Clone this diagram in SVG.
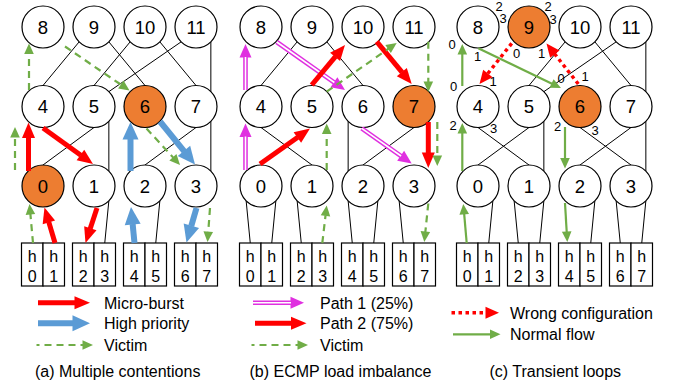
<svg xmlns="http://www.w3.org/2000/svg" width="675" height="385" viewBox="0 0 675 385">
<defs>
<style>
.n circle{fill:#fff;stroke:#000;stroke-width:1.2}
.n.o circle{fill:#ED7D31}
.n text{font-family:"Liberation Sans",Arial,sans-serif;font-size:18.5px;text-anchor:middle;fill:#000}
.h rect{fill:#fff;stroke:#000;stroke-width:1.2}
.h text{font-family:"Liberation Sans",Arial,sans-serif;font-size:16px;text-anchor:middle;fill:#000}
.lk line{stroke:#000;stroke-width:1;fill:none}
.ar line{fill:none}
.r{stroke:#FF0000;stroke-width:5;marker-end:url(#mr)}
.b{stroke:#5B9BD5;stroke-width:6;marker-end:url(#mb)}
.gd{stroke:#70AD47;stroke-width:2.2;stroke-dasharray:7 5;marker-end:url(#mg)}
.gs{stroke:#70AD47;stroke-width:2.2;marker-end:url(#mg)}
.rd{stroke:#FF0000;stroke-width:3.5;stroke-dasharray:3.5 3.5;marker-end:url(#md)}
.p{stroke:#E030E0;stroke-width:4.6;marker-end:url(#mp)}
.pw{stroke:#fff;stroke-width:1.6}
.pt{font-family:"Liberation Sans",Arial,sans-serif;font-size:13px;text-anchor:middle;fill:#000}
.lg{font-family:"Liberation Sans",Arial,sans-serif;font-size:16px;fill:#000}
</style>
<marker id="mr" markerUnits="userSpaceOnUse" markerWidth="20" markerHeight="20" refX="0" refY="0" orient="auto" overflow="visible"><path d="M-0.5,-6.5L15,0L-0.5,6.5z" fill="#FF0000"/></marker>
<marker id="mb" markerUnits="userSpaceOnUse" markerWidth="20" markerHeight="20" refX="0" refY="0" orient="auto" overflow="visible"><path d="M-0.5,-8L17,0L-0.5,8z" fill="#5B9BD5"/></marker>
<marker id="mg" markerUnits="userSpaceOnUse" markerWidth="20" markerHeight="20" refX="0" refY="0" orient="auto" overflow="visible"><path d="M-0.5,-4.8L10,0L-0.5,4.8z" fill="#70AD47"/></marker>
<marker id="md" markerUnits="userSpaceOnUse" markerWidth="20" markerHeight="20" refX="0" refY="0" orient="auto" overflow="visible"><path d="M-0.5,-6L13,0L-0.5,6z" fill="#FF0000"/></marker>
<marker id="mp" markerUnits="userSpaceOnUse" markerWidth="20" markerHeight="20" refX="0" refY="0" orient="auto" overflow="visible"><path d="M-0.5,-6L13,0L-0.5,6z" fill="#E030E0"/></marker>
</defs>

<!-- Panel (a) -->
<g id="panel-a">
<g id="a-links" class="lk">
<line x1="43" y1="85.5" x2="79.15" y2="41.85"/>
<line x1="94" y1="85.5" x2="130.15" y2="41.85"/>
<line x1="108.85" y1="91.65" x2="181.15" y2="41.85"/>
<line x1="145" y1="85.5" x2="108.85" y2="41.85"/>
<line x1="196" y1="85.5" x2="159.85" y2="41.85"/>
<line x1="210.85" y1="41.85" x2="210.85" y2="91.65"/>
<line x1="43" y1="165" x2="94" y2="127.5"/>
<line x1="108.85" y1="171.15" x2="108.85" y2="121.35"/>
<line x1="145" y1="165" x2="196" y2="127.5"/>
<line x1="210.85" y1="171.15" x2="210.85" y2="121.35"/>
<line x1="108.85" y1="200.85" x2="104.75" y2="243"/>
<line x1="159.85" y1="200.85" x2="155.75" y2="243"/>
</g>
<g id="a-n8" class="n"><circle cx="43" cy="27" r="21"/><text x="43" y="33.6">8</text></g>
<g id="a-n9" class="n"><circle cx="94" cy="27" r="21"/><text x="94" y="33.6">9</text></g>
<g id="a-n10" class="n"><circle cx="145" cy="27" r="21"/><text x="145" y="33.6">10</text></g>
<g id="a-n11" class="n"><circle cx="196" cy="27" r="21"/><text x="196" y="33.6">11</text></g>
<g id="a-n4" class="n"><circle cx="43" cy="106.5" r="21"/><text x="43" y="113.1">4</text></g>
<g id="a-n5" class="n"><circle cx="94" cy="106.5" r="21"/><text x="94" y="113.1">5</text></g>
<g id="a-n6" class="n o"><circle cx="145" cy="106.5" r="21"/><text x="145" y="113.1">6</text></g>
<g id="a-n7" class="n"><circle cx="196" cy="106.5" r="21"/><text x="196" y="113.1">7</text></g>
<g id="a-n0" class="n o"><circle cx="43" cy="186" r="21"/><text x="43" y="192.6">0</text></g>
<g id="a-n1" class="n"><circle cx="94" cy="186" r="21"/><text x="94" y="192.6">1</text></g>
<g id="a-n2" class="n"><circle cx="145" cy="186" r="21"/><text x="145" y="192.6">2</text></g>
<g id="a-n3" class="n"><circle cx="196" cy="186" r="21"/><text x="196" y="192.6">3</text></g>
<g id="a-h0" class="h"><rect x="21.5" y="243" width="21.5" height="43"/><text x="32.25" y="261.5">h</text><text x="32.25" y="282">0</text></g>
<g id="a-h1" class="h"><rect x="43" y="243" width="21.5" height="43"/><text x="53.75" y="261.5">h</text><text x="53.75" y="282">1</text></g>
<g id="a-h2" class="h"><rect x="72.5" y="243" width="21.5" height="43"/><text x="83.25" y="261.5">h</text><text x="83.25" y="282">2</text></g>
<g id="a-h3" class="h"><rect x="94" y="243" width="21.5" height="43"/><text x="104.75" y="261.5">h</text><text x="104.75" y="282">3</text></g>
<g id="a-h4" class="h"><rect x="123.5" y="243" width="21.5" height="43"/><text x="134.25" y="261.5">h</text><text x="134.25" y="282">4</text></g>
<g id="a-h5" class="h"><rect x="145" y="243" width="21.5" height="43"/><text x="155.75" y="261.5">h</text><text x="155.75" y="282">5</text></g>
<g id="a-h6" class="h"><rect x="174.5" y="243" width="21.5" height="43"/><text x="185.25" y="261.5">h</text><text x="185.25" y="282">6</text></g>
<g id="a-h7" class="h"><rect x="196" y="243" width="21.5" height="43"/><text x="206.75" y="261.5">h</text><text x="206.75" y="282">7</text></g>
<g id="a-arrows" class="ar">
<line class="r" x1="55" y1="243" x2="48.75" y2="221.88"/>
<line class="r" x1="28.5" y1="171" x2="28.5" y2="137.5"/>
<line class="r" x1="43" y1="128" x2="80.83" y2="155.24"/>
<line class="r" x1="97" y1="208" x2="90.18" y2="228.75"/>
<line class="b" x1="134.5" y1="243" x2="132.65" y2="223.92"/>
<line class="b" x1="130.5" y1="171" x2="130.5" y2="139"/>
<line class="b" x1="160" y1="121.5" x2="184.27" y2="151.31"/>
<line class="b" x1="196.5" y1="208" x2="191.23" y2="226.17"/>
<line class="gd" x1="33" y1="243" x2="30.39" y2="213.96"/>
<line class="gd" x1="15" y1="170" x2="15" y2="137"/>
<line class="gd" x1="29" y1="90" x2="29" y2="53.5"/>
<line class="gd" x1="65" y1="46.5" x2="121.24" y2="84.86"/>
<line class="gd" x1="146.5" y1="128.5" x2="173.24" y2="157.63"/>
<line class="gd" x1="210" y1="208" x2="208.23" y2="232.03"/>
</g>
</g>

<!-- Panel (b) -->
<g id="panel-b" transform="translate(218,0)">
<g id="b-links" class="lk">
<line x1="43" y1="85.5" x2="79.15" y2="41.85"/>
<line x1="145" y1="85.5" x2="108.85" y2="41.85"/>
<line x1="94" y1="165" x2="43" y2="127.5"/>
<line x1="130.15" y1="171.15" x2="130.15" y2="121.35"/>
<line x1="145" y1="165" x2="196" y2="127.5"/>
<line x1="28.15" y1="200.85" x2="32.25" y2="243"/>
<line x1="57.85" y1="200.85" x2="53.75" y2="243"/>
<line x1="79.15" y1="200.85" x2="83.25" y2="243"/>
<line x1="130.15" y1="200.85" x2="134.25" y2="243"/>
<line x1="159.85" y1="200.85" x2="155.75" y2="243"/>
<line x1="181.15" y1="200.85" x2="185.25" y2="243"/>
</g>
<g id="b-n8" class="n"><circle cx="43" cy="27" r="21"/><text x="43" y="33.6">8</text></g>
<g id="b-n9" class="n"><circle cx="94" cy="27" r="21"/><text x="94" y="33.6">9</text></g>
<g id="b-n10" class="n"><circle cx="145" cy="27" r="21"/><text x="145" y="33.6">10</text></g>
<g id="b-n11" class="n"><circle cx="196" cy="27" r="21"/><text x="196" y="33.6">11</text></g>
<g id="b-n4" class="n"><circle cx="43" cy="106.5" r="21"/><text x="43" y="113.1">4</text></g>
<g id="b-n5" class="n"><circle cx="94" cy="106.5" r="21"/><text x="94" y="113.1">5</text></g>
<g id="b-n6" class="n"><circle cx="145" cy="106.5" r="21"/><text x="145" y="113.1">6</text></g>
<g id="b-n7" class="n o"><circle cx="196" cy="106.5" r="21"/><text x="196" y="113.1">7</text></g>
<g id="b-n0" class="n"><circle cx="43" cy="186" r="21"/><text x="43" y="192.6">0</text></g>
<g id="b-n1" class="n"><circle cx="94" cy="186" r="21"/><text x="94" y="192.6">1</text></g>
<g id="b-n2" class="n"><circle cx="145" cy="186" r="21"/><text x="145" y="192.6">2</text></g>
<g id="b-n3" class="n"><circle cx="196" cy="186" r="21"/><text x="196" y="192.6">3</text></g>
<g id="b-h0" class="h"><rect x="21.5" y="243" width="21.5" height="43"/><text x="32.25" y="261.5">h</text><text x="32.25" y="282">0</text></g>
<g id="b-h1" class="h"><rect x="43" y="243" width="21.5" height="43"/><text x="53.75" y="261.5">h</text><text x="53.75" y="282">1</text></g>
<g id="b-h2" class="h"><rect x="72.5" y="243" width="21.5" height="43"/><text x="83.25" y="261.5">h</text><text x="83.25" y="282">2</text></g>
<g id="b-h3" class="h"><rect x="94" y="243" width="21.5" height="43"/><text x="104.75" y="261.5">h</text><text x="104.75" y="282">3</text></g>
<g id="b-h4" class="h"><rect x="123.5" y="243" width="21.5" height="43"/><text x="134.25" y="261.5">h</text><text x="134.25" y="282">4</text></g>
<g id="b-h5" class="h"><rect x="145" y="243" width="21.5" height="43"/><text x="155.75" y="261.5">h</text><text x="155.75" y="282">5</text></g>
<g id="b-h6" class="h"><rect x="174.5" y="243" width="21.5" height="43"/><text x="185.25" y="261.5">h</text><text x="185.25" y="282">6</text></g>
<g id="b-h7" class="h"><rect x="196" y="243" width="21.5" height="43"/><text x="206.75" y="261.5">h</text><text x="206.75" y="282">7</text></g>
<g id="b-arrows" class="ar">
<line class="p" x1="27.5" y1="170" x2="27.5" y2="136.5"/><line class="pw" x1="27.5" y1="170" x2="27.5" y2="136.5"/>
<line class="p" x1="27.5" y1="90" x2="27.5" y2="57"/><line class="pw" x1="27.5" y1="90" x2="27.5" y2="57"/>
<line class="p" x1="58.7" y1="42" x2="116.36" y2="82.52"/><line class="pw" x1="58.7" y1="42" x2="116.36" y2="82.52"/>
<line class="p" x1="143.7" y1="128.3" x2="183.07" y2="156.02"/><line class="pw" x1="143.7" y1="128.3" x2="183.07" y2="156.02"/>
<line class="r" x1="42" y1="164" x2="79.77" y2="137.18"/>
<line class="r" x1="93.7" y1="85" x2="117.4" y2="56.53"/>
<line class="r" x1="158.7" y1="41.7" x2="184.14" y2="72.44"/>
<line class="r" x1="210.3" y1="122" x2="210.3" y2="153"/>
<line class="gd" x1="104.3" y1="243" x2="107.54" y2="215.43"/>
<line class="gd" x1="108.7" y1="170" x2="108.7" y2="133.5"/>
<line class="gd" x1="108.7" y1="91.7" x2="170.49" y2="48.71"/>
<line class="gd" x1="210.3" y1="41.7" x2="210.3" y2="82"/>
<line class="gd" x1="219.3" y1="122" x2="219.3" y2="156"/>
<line class="gd" x1="210.3" y1="203.5" x2="207.33" y2="232.05"/>
</g>
</g>

<!-- Panel (c) -->
<g id="panel-c" transform="translate(435,0)">
<g id="c-links" class="lk">
<line x1="94" y1="85.5" x2="130.15" y2="41.85"/>
<line x1="108.85" y1="91.65" x2="181.15" y2="41.85"/>
<line x1="196" y1="85.5" x2="159.85" y2="41.85"/>
<line x1="210.85" y1="41.85" x2="210.85" y2="91.65"/>
<line x1="94" y1="165" x2="43" y2="127.5"/>
<line x1="43" y1="165" x2="94" y2="127.5"/>
<line x1="108.85" y1="171.15" x2="108.85" y2="121.35"/>
<line x1="196" y1="165" x2="145" y2="127.5"/>
<line x1="145" y1="165" x2="196" y2="127.5"/>
<line x1="210.85" y1="171.15" x2="210.85" y2="121.35"/>
<line x1="57.85" y1="200.85" x2="53.75" y2="243"/>
<line x1="79.15" y1="200.85" x2="83.25" y2="243"/>
<line x1="108.85" y1="200.85" x2="104.75" y2="243"/>
<line x1="159.85" y1="200.85" x2="155.75" y2="243"/>
<line x1="181.15" y1="200.85" x2="185.25" y2="243"/>
<line x1="210.85" y1="200.85" x2="206.75" y2="243"/>
</g>
<g id="c-n8" class="n"><circle cx="43" cy="27" r="21"/><text x="43" y="33.6">8</text></g>
<g id="c-n9" class="n o"><circle cx="94" cy="27" r="21"/><text x="94" y="33.6">9</text></g>
<g id="c-n10" class="n"><circle cx="145" cy="27" r="21"/><text x="145" y="33.6">10</text></g>
<g id="c-n11" class="n"><circle cx="196" cy="27" r="21"/><text x="196" y="33.6">11</text></g>
<g id="c-n4" class="n"><circle cx="43" cy="106.5" r="21"/><text x="43" y="113.1">4</text></g>
<g id="c-n5" class="n"><circle cx="94" cy="106.5" r="21"/><text x="94" y="113.1">5</text></g>
<g id="c-n6" class="n o"><circle cx="145" cy="106.5" r="21"/><text x="145" y="113.1">6</text></g>
<g id="c-n7" class="n"><circle cx="196" cy="106.5" r="21"/><text x="196" y="113.1">7</text></g>
<g id="c-n0" class="n"><circle cx="43" cy="186" r="21"/><text x="43" y="192.6">0</text></g>
<g id="c-n1" class="n"><circle cx="94" cy="186" r="21"/><text x="94" y="192.6">1</text></g>
<g id="c-n2" class="n"><circle cx="145" cy="186" r="21"/><text x="145" y="192.6">2</text></g>
<g id="c-n3" class="n"><circle cx="196" cy="186" r="21"/><text x="196" y="192.6">3</text></g>
<g id="c-h0" class="h"><rect x="21.5" y="243" width="21.5" height="43"/><text x="32.25" y="261.5">h</text><text x="32.25" y="282">0</text></g>
<g id="c-h1" class="h"><rect x="43" y="243" width="21.5" height="43"/><text x="53.75" y="261.5">h</text><text x="53.75" y="282">1</text></g>
<g id="c-h2" class="h"><rect x="72.5" y="243" width="21.5" height="43"/><text x="83.25" y="261.5">h</text><text x="83.25" y="282">2</text></g>
<g id="c-h3" class="h"><rect x="94" y="243" width="21.5" height="43"/><text x="104.75" y="261.5">h</text><text x="104.75" y="282">3</text></g>
<g id="c-h4" class="h"><rect x="123.5" y="243" width="21.5" height="43"/><text x="134.25" y="261.5">h</text><text x="134.25" y="282">4</text></g>
<g id="c-h5" class="h"><rect x="145" y="243" width="21.5" height="43"/><text x="155.75" y="261.5">h</text><text x="155.75" y="282">5</text></g>
<g id="c-h6" class="h"><rect x="174.5" y="243" width="21.5" height="43"/><text x="185.25" y="261.5">h</text><text x="185.25" y="282">6</text></g>
<g id="c-h7" class="h"><rect x="196" y="243" width="21.5" height="43"/><text x="206.75" y="261.5">h</text><text x="206.75" y="282">7</text></g>
<g id="c-arrows" class="ar">
<line class="gs" x1="31.7" y1="243" x2="29.17" y2="213.96"/>
<line class="gs" x1="27.3" y1="171" x2="27.3" y2="133"/>
<line class="gs" x1="27.3" y1="86" x2="27.3" y2="54"/>
<line class="gs" x1="43.3" y1="48.3" x2="116.98" y2="83.67"/>
<line class="gs" x1="130" y1="127" x2="130" y2="158.5"/>
<line class="gs" x1="130" y1="203" x2="131.71" y2="232.02"/>
<line class="rd" x1="76.7" y1="43.3" x2="52.57" y2="73.81"/>
<line class="rd" x1="143.3" y1="84" x2="119.53" y2="53.73"/>
</g>
<g id="c-ports" class="pt">
<text x="64" y="10.6">2</text><text x="68" y="23.1">3</text>
<text x="113" y="10.6">2</text><text x="118" y="23.6">3</text>
<text x="17" y="48.6">0</text><text x="42.5" y="61.1">1</text>
<text x="81.5" y="57.6">0</text><text x="106.5" y="57.6">1</text>
<text x="18.5" y="91.1">0</text><text x="58" y="86.1">1</text>
<text x="126" y="83.1">0</text><text x="150" y="80.6">1</text>
<text x="18" y="129.6">2</text><text x="58.5" y="133.1">3</text>
<text x="122.5" y="131.1">2</text><text x="160" y="134.6">3</text>
</g>
</g>

<!-- Legends -->
<g id="legend" class="ar">
<line class="r" x1="38" y1="302.7" x2="75" y2="302.7"/>
<line class="b" x1="38" y1="323.3" x2="73" y2="323.3"/>
<line class="gd" x1="36.5" y1="345" x2="83" y2="345" stroke-dashoffset="4"/>
<line class="p" x1="253" y1="302.7" x2="291" y2="302.7"/><line class="pw" x1="253" y1="302.7" x2="291" y2="302.7"/>
<line class="r" x1="255" y1="323.3" x2="291.5" y2="323.3"/>
<line class="gd" x1="251.5" y1="345" x2="298" y2="345" stroke-dashoffset="4"/>
<line class="rd" x1="451.5" y1="312.7" x2="486" y2="312.7"/>
<line class="gs" x1="453" y1="334.3" x2="490.5" y2="334.3"/>
</g>
<g id="legend-text" class="lg">
<text x="104" y="308.5">Micro-burst</text>
<text x="104" y="329">High priority</text>
<text x="104" y="350.7">Victim</text>
<text x="320" y="308.5">Path 1 (25%)</text>
<text x="320" y="329">Path 2 (75%)</text>
<text x="320" y="350.7">Victim</text>
<text x="510" y="318.5">Wrong configuration</text>
<text x="510" y="340">Normal flow</text>
<text x="35" y="377.3">(a) Multiple contentions</text>
<text x="249.5" y="377.3">(b) ECMP load imbalance</text>
<text x="489.5" y="377.3">(c) Transient loops</text>
</g>
</svg>
